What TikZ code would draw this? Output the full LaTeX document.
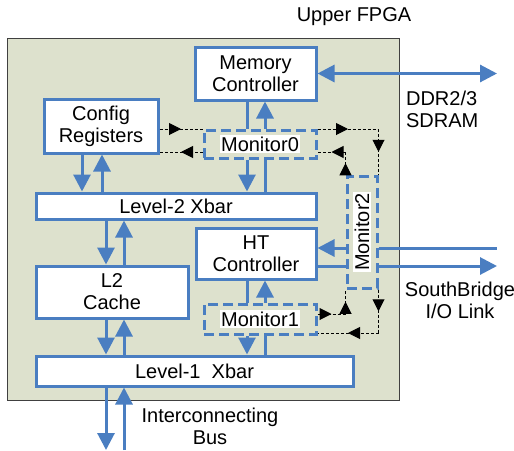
\documentclass[tikz,border=0pt]{standalone}
\usepackage{fontspec}
\setmainfont{Liberation Sans}
\usepackage{tikz}
\usetikzlibrary{calc,arrows.meta,positioning,decorations.markings}
\definecolor{boxblue}{RGB}{74,126,193}
\definecolor{fpgagreen}{RGB}{221,225,205}
\tikzset{
    every node/.style={font=\fontsize{10}{11}\selectfont},
    unit/.style={draw=boxblue,line width=1.5pt,fill=white,align=center,inner sep=0pt},
    monbox/.style={draw=boxblue,line width=1.5pt,dash pattern=on 5pt off 2.5pt,inner sep=0pt},
    tag/.style={fill=white,inner sep=0.6pt},
    bus/.style={draw=boxblue,line width=1.5pt},
    busarrow/.style={bus,-{Triangle[length=8.5pt,width=8.5pt]}},
    sig/.style={black,line width=0.5pt,dash pattern=on 1.5pt off 1pt,
        postaction={decorate},
        decoration={markings,mark=at position 0.5 with {\arrow{Triangle[length=6pt,width=6pt]}}}}
}

\begin{document}
\begin{tikzpicture}[x=0.5pt,y=-0.5pt]

    \useasboundingbox (0,0) rectangle (514,450);

    % board
    \node[draw=black!75,line width=0.5pt,fill=fpgagreen,minimum width=196pt,minimum height=181pt,inner sep=0pt] (fpga) at (203,219) {};
    \node (title) at (354,17) {Upper FPGA};

    % units
    \node[unit,minimum width=60.5pt,minimum height=26.5pt] (mc) at (255.5,73.5) {Memory\\Controller};
    \node[unit,minimum width=57pt,minimum height=27pt] (cfg) at (101,126) {Config\\Registers};
    \node[unit,minimum width=140pt,minimum height=13pt] (l2x) at (176,206) {};
    \node[tag] at (l2x) {Level-2 Xbar};
    \node[unit,minimum width=60pt,minimum height=25.5pt] (ht) at (256,253.5) {HT\\Controller};
    \node[unit,minimum width=76pt,minimum height=26pt] (l2c) at (112,292) {L2\\Cache};
    \node[unit,minimum width=158.5pt,minimum height=15pt] (l1x) at (194.5,371) {Level-1\ \ Xbar};

    % monitors
    \node[monbox,minimum width=56pt,minimum height=14pt] (mon0) at (260,144) {};
    \node[tag] at (mon0) {Monitor0};
    \node[monbox,minimum width=56pt,minimum height=15pt] (mon1) at (260,319) {};
    \node[tag] at (mon1) {Monitor1};
    \node[monbox,minimum width=15pt,minimum height=56pt] (mon2) at (362,232) {};
    \node[tag,rotate=90] at (mon2) {Monitor2};

    % outside labels
    \node[align=left,anchor=west] (ddr) at (399,109) {DDR2/3\\SDRAM};
    \node[align=center] (sb) at (460,300) {SouthBridge\\I/O Link};
    \node[align=center] (ic) at (210,426) {Interconnecting\\Bus};

    % columns, rows and free ends
    \coordinate (cA) at (247,0);
    \coordinate (cB) at (265,0);
    \coordinate (cC) at (82,0);
    \coordinate (cD) at (102,0);
    \coordinate (cE) at (106,0);
    \coordinate (cF) at (124,0);
    \coordinate (rT) at (0,129);
    \coordinate (rB) at (0,152);
    \coordinate (rI) at (0,248);
    \coordinate (rO) at (0,266);
    \coordinate (rU) at (0,314);
    \coordinate (rV) at (0,333);
    \coordinate (edge) at (497,0);
    \coordinate (bottom) at (0,450);

    % memory side
    \draw[bus,{Triangle[length=8.5pt,width=8.5pt]}-{Triangle[length=8.5pt,width=8.5pt]}] (mc.east) -- (mc.east -| edge);
    \draw[bus] (cA |- mc.south) -- (cA |- mon0.north);
    \draw[busarrow] (cB |- mon0.north) -- (cB |- mc.south);
    \draw[busarrow] (cA |- mon0.south) -- (cA |- l2x.north);
    \draw[bus] (cB |- l2x.north) -- (cB |- mon0.south);

    % config and cache
    \draw[busarrow] (cC |- cfg.south) -- (cC |- l2x.north);
    \draw[busarrow] (cD |- l2x.north) -- (cD |- cfg.south);
    \draw[busarrow] (cE |- l2x.south) -- (cE |- l2c.north);
    \draw[busarrow] (cF |- l2c.north) -- (cF |- l2x.south);
    \draw[busarrow] (cE |- l2c.south) -- (cE |- l1x.north);
    \draw[busarrow] (cF |- l1x.north) -- (cF |- l2c.south);
    \draw[busarrow] (cE |- l1x.south) -- (cE |- bottom);
    \draw[busarrow] (cF |- bottom) -- (cF |- l1x.south);

    % HT side
    \draw[bus] (cA |- ht.south) -- (cA |- mon1.north);
    \draw[busarrow] (cB |- mon1.north) -- (cB |- ht.south);
    \draw[busarrow] (cA |- mon1.south) -- (cA |- l1x.north);
    \draw[bus] (cB |- l1x.north) -- (cB |- mon1.south);
    \draw[busarrow] (mon2.west |- rI) -- (ht.east |- rI);
    \draw[bus] (ht.east |- rO) -- (mon2.west |- rO);
    \draw[bus] (mon2.east |- rI) -- (edge |- rI);
    \draw[busarrow] (mon2.east |- rO) -- (edge |- rO);

    % monitor signals
    \draw[sig] (cfg.east |- rT) -- (mon0.west |- rT);
    \draw[sig] (mon0.west |- rB) -- (cfg.east |- rB);
    \draw[sig] (mon0.east |- rT) -- (mon2.east |- rT);
    \draw[sig] (mon2.east |- rT) -- (mon2.north east);
    \draw[sig] (mon2.north west) -- (mon2.west |- rB);
    \draw[sig] (mon2.west |- rB) -- (mon0.east |- rB);
    \draw[sig] (mon1.east |- rU) -- (mon2.west |- rU);
    \draw[sig] (mon2.west |- rU) -- (mon2.south west);
    \draw[sig] (mon2.south east) -- (mon2.east |- rV);
    \draw[sig] (mon2.east |- rV) -- (mon1.east |- rV);

\end{tikzpicture}
\end{document}
